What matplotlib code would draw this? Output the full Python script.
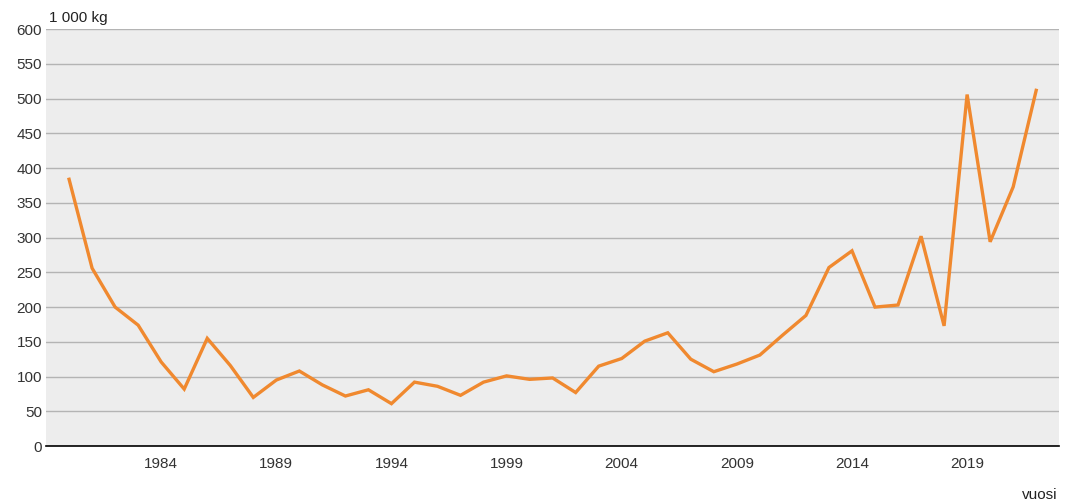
import matplotlib.pyplot as plt

years = list(range(1980, 2023))
values = [384, 256, 200, 174, 121, 82, 155, 116, 70, 95,
          108, 88, 72, 81, 61, 92, 86, 73, 92, 101,
          96, 98, 77, 115, 126, 151, 163, 125, 107, 118,
          131, 160, 188, 257, 281, 200, 203, 302, 173, 506,
          294, 373, 512]
x_ticks = [1984, 1989, 1994, 1999, 2004, 2009, 2014, 2019]
y_ticks = list(range(0, 601, 50))

plt.rcParams['font.family'] = ['Liberation Sans', 'DejaVu Sans']

fig = plt.figure(figsize=(10.71, 5.04), dpi=100)
ax = fig.add_axes([0.043, 0.115, 0.946, 0.827])
ax.set_facecolor('#ededed')

ax.plot(years, values, color='#f0892f', linewidth=2.4, solid_joinstyle='miter')

ax.set_xlim(1979, 2023)
ax.set_ylim(0, 600)
ax.set_xticks(x_ticks)
ax.set_yticks(y_ticks)
ax.yaxis.grid(True, color='#b4b4b4', linewidth=1.0)
ax.set_axisbelow(True)

for side in ['top', 'right', 'left']:
    ax.spines[side].set_visible(False)
ax.spines['bottom'].set_color('black')
ax.spines['bottom'].set_linewidth(1.2)

ax.tick_params(axis='both', length=0, labelsize=11, colors='#333333')
ax.tick_params(axis='x', pad=8)
ax.tick_params(axis='y', pad=3)

fig.text(0.046, 0.965, '1 000 kg', fontsize=11, color='#222222', ha='left', va='center')
fig.text(0.987, 0.018, 'vuosi', fontsize=11, color='#222222', ha='right', va='center')

fig.savefig('out.png', dpi=100)
